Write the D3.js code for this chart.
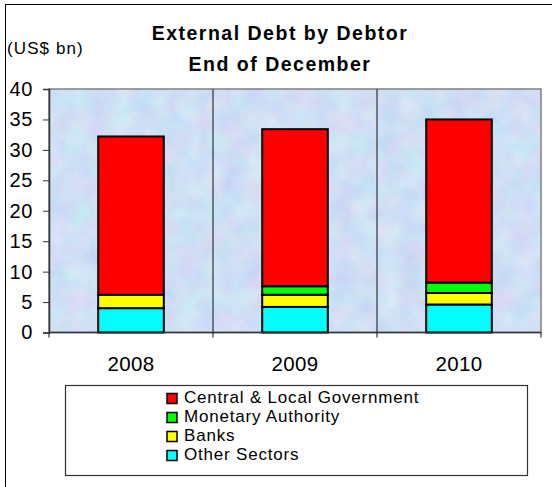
<!DOCTYPE html>
<html>
<head>
<meta charset="utf-8">
<script src="https://cdn.jsdelivr.net/npm/d3@7"></script>
<style>
  html, body { margin: 0; padding: 0; background: #fff; }
  svg { display: block; font-family: "Liberation Sans", Arial, sans-serif; }
</style>
</head>
<body>
<svg id="chart" width="552" height="487"></svg>
<script>
// Years along the x axis
const years = ["2008", "2009", "2010"];
// Stacked series, bottom to top (US$ bn)
const otherSectors = [4.0, 4.2, 4.6];
const banks = [2.2, 2.0, 1.9];
const monetaryAuthority = [0.0, 1.4, 1.7];
const centralLocalGov = [26.0, 25.8, 26.8];
const seriesNames = ["Other Sectors", "Banks", "Monetary Authority", "Central & Local Government"];
const seriesColors = ["#00FFFF", "#FFFF00", "#00FF00", "#FF0000"];
// Legend order (top to bottom)
const legendOrder = ["Central & Local Government", "Monetary Authority", "Banks", "Other Sectors"];
const yTicks = [0, 5, 10, 15, 20, 25, 30, 35, 40];
const titleLines = ["External Debt by Debtor", "End of December"];
const unitLabel = "(US$ bn)";

const svg = d3.select("#chart");

// Soft textured paper fill for the plot area
const defs = svg.append("defs");
const f = defs.append("filter").attr("id", "paper")
  .attr("x", 0).attr("y", 0).attr("width", "100%").attr("height", "100%")
  .attr("color-interpolation-filters", "sRGB");
f.append("feTurbulence").attr("type", "fractalNoise")
  .attr("baseFrequency", "0.045").attr("numOctaves", 4).attr("seed", 7).attr("result", "n");
f.append("feColorMatrix").attr("in", "n").attr("type", "matrix")
  .attr("values", "0.16 0 0 0 0.73  0 0.12 0 0 0.815  0 0 0.05 0 0.935  0 0 0 0 1");

// Outer chart frame
svg.append("rect").attr("x", 5.5).attr("y", 4.5).attr("width", 600).attr("height", 600)
  .attr("fill", "#fff").attr("stroke", "#000").attr("stroke-width", 1);

const plot = { left: 49, right: 541, top: 89, bottom: 332.5 };

const x = d3.scaleBand().domain(years).range([plot.left, plot.right]).padding(0);
const y = d3.scaleLinear().domain([0, 40]).range([plot.bottom, plot.top]);

// Plot background
svg.append("rect")
  .attr("x", plot.left).attr("y", plot.top)
  .attr("width", plot.right - plot.left).attr("height", plot.bottom - plot.top)
  .attr("filter", "url(#paper)");
svg.append("rect")
  .attr("x", plot.left).attr("y", plot.top)
  .attr("width", plot.right - plot.left).attr("height", plot.bottom - plot.top)
  .attr("fill", "none").attr("stroke", "#808080").attr("stroke-width", 1.5);

// Vertical gridlines between categories
svg.append("g").selectAll("line")
  .data(years.slice(1))
  .join("line")
  .attr("x1", d => x(d)).attr("x2", d => x(d))
  .attr("y1", plot.top).attr("y2", plot.bottom)
  .attr("stroke", "#333").attr("stroke-width", 1.2);

// Stacked bars
const table = years.map((yr, i) => ({
  year: yr,
  "Other Sectors": otherSectors[i],
  "Banks": banks[i],
  "Monetary Authority": monetaryAuthority[i],
  "Central & Local Government": centralLocalGov[i]
}));
const stacked = d3.stack().keys(seriesNames)(table);
const color = d3.scaleOrdinal().domain(seriesNames).range(seriesColors);
const barW = x.bandwidth() * 0.4;

svg.append("g").selectAll("g")
  .data(stacked)
  .join("g")
  .attr("fill", d => color(d.key))
  .selectAll("rect")
  .data(d => d.filter(p => p[1] - p[0] > 0))
  .join("rect")
  .attr("x", d => x(d.data.year) + (x.bandwidth() - barW) / 2)
  .attr("y", d => y(d[1]))
  .attr("width", barW)
  .attr("height", d => y(d[0]) - y(d[1]))
  .attr("stroke", "#000").attr("stroke-width", 2);

// Y axis
const yAxis = svg.append("g")
  .attr("transform", `translate(${plot.left},0)`)
  .call(d3.axisLeft(y).tickValues(yTicks).tickSize(6).tickPadding(10).tickFormat(d3.format("d")));
yAxis.select(".domain").attr("stroke", "#333").attr("stroke-width", 1.5);
yAxis.selectAll(".tick line").attr("stroke", "#333");
yAxis.selectAll(".tick text")
  .attr("font-size", 20).attr("letter-spacing", 0.6).attr("fill", "#000")
  .attr("font-family", "'Liberation Sans', Arial, sans-serif");

// X axis: ticks at category boundaries, labels at centres
const xAxisG = svg.append("g").attr("transform", `translate(0,${plot.bottom})`);
xAxisG.append("line")
  .attr("x1", plot.left).attr("x2", plot.right)
  .attr("stroke", "#333").attr("stroke-width", 1.5);
const boundaries = years.map(d => x(d)).concat([x(years[years.length - 1]) + x.bandwidth()]);
xAxisG.selectAll("line.tk")
  .data(boundaries)
  .join("line").attr("class", "tk")
  .attr("x1", d => d).attr("x2", d => d)
  .attr("y1", 0).attr("y2", 5)
  .attr("stroke", "#333").attr("stroke-width", 1.2);
xAxisG.selectAll("text")
  .data(years)
  .join("text")
  .attr("x", d => x(d) + x.bandwidth() / 2)
  .attr("y", 38.5)
  .attr("text-anchor", "middle")
  .attr("font-size", 20.5).attr("letter-spacing", 0.4)
  .text(d => d);

// Title
svg.append("g").selectAll("text")
  .data(titleLines)
  .join("text")
  .attr("x", 280).attr("y", (d, i) => 40 + i * 31)
  .attr("text-anchor", "middle")
  .attr("font-size", 19.5).attr("font-weight", "bold")
  .attr("letter-spacing", 1.5)
  .text(d => d);

// Unit label
svg.append("text").attr("x", 7).attr("y", 54)
  .attr("font-size", 17).attr("letter-spacing", 1.1).text(unitLabel);

// Legend
const legend = svg.append("g");
legend.append("rect")
  .attr("x", 65.5).attr("y", 385.5).attr("width", 462).attr("height", 90)
  .attr("fill", "#fff").attr("stroke", "#333").attr("stroke-width", 1.2);
const rows = legend.selectAll("g.row")
  .data(legendOrder)
  .join("g").attr("class", "row")
  .attr("transform", (d, i) => `translate(167,${393.5 + i * 19})`);
rows.append("rect")
  .attr("width", 10).attr("height", 10)
  .attr("fill", d => color(d)).attr("stroke", "#000").attr("stroke-width", 1.5);
rows.append("text")
  .attr("x", 17).attr("y", 9.5)
  .attr("font-size", 17).attr("letter-spacing", 0.8)
  .text(d => d);
</script>
</body>
</html>
